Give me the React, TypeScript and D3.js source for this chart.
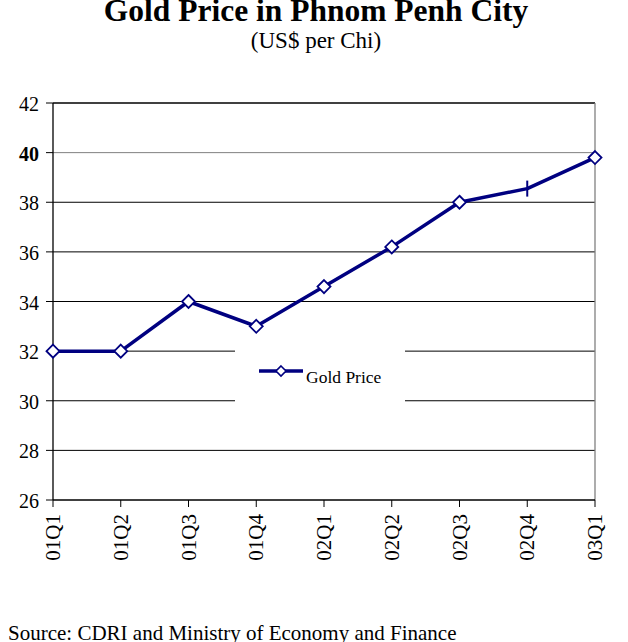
import React from "react";
import * as d3 from "d3";

const categories = ["01Q1", "01Q2", "01Q3", "01Q4", "02Q1", "02Q2", "02Q3", "02Q4", "03Q1"];
const goldPrice = [32, 32, 34, 33, 34.6, 36.2, 38, 38.55, 39.8];
const yTicks = [26, 28, 30, 32, 34, 36, 38, 40, 42];
const tickMarker = [false, false, false, false, false, false, false, true, false];

export default function App() {
  const W = 628, H = 642;
  const left = 53, right = 595, top = 103, bottom = 500;
  const x = d3.scalePoint<string>().domain(categories).range([left, right]);
  const y = d3.scaleLinear().domain([26, 42]).range([bottom, top]);
  const line = d3.line<number>().x((_, i) => x(categories[i])!).y(d => y(d));
  const navy = "#000080";
  const font = "'Liberation Serif', 'Times New Roman', serif";
  const diamond = (cx: number, cy: number, r: number) =>
    `M${cx},${cy - r}L${cx + r},${cy}L${cx},${cy + r}L${cx - r},${cy}Z`;
  const legX = 235, legW = 170, legY = 347, legH = 56;
  return (
    <svg width={W} height={H} style={{ position: "absolute", left: 0, top: 0 }} fontFamily={font}>
      <rect width={W} height={H} fill="#fff" />
      <text x={316} y={21} textAnchor="middle" fontSize={31.5} fontWeight="bold">Gold Price in Phnom Penh City</text>
      <text x={316} y={48} textAnchor="middle" fontSize={23}>(US$ per Chi)</text>
      {yTicks.filter(t => t > 26 && t < 42).map(t => (
        <line key={t} x1={left} x2={right} y1={y(t)} y2={y(t)} stroke={t === 40 ? "#808080" : "#000"} strokeWidth={1} />
      ))}
      <line x1={left} x2={right} y1={top} y2={top} stroke="#000" strokeWidth={1.3} />
      <line x1={right} x2={right} y1={top} y2={bottom} stroke="#808080" strokeWidth={1.3} />
      <rect x={legX} y={legY} width={legW} height={legH} fill="#fff" />
      <line x1={left} x2={left} y1={top} y2={bottom} stroke="#000" strokeWidth={1.3} />
      <line x1={left} x2={right} y1={bottom} y2={bottom} stroke="#000" strokeWidth={1.3} />
      {yTicks.map(t => (
        <g key={t}>
          <line x1={left - 7} x2={left} y1={y(t)} y2={y(t)} stroke="#000" />
          <text x={39} y={y(t) + 8} textAnchor="end" fontSize={20} fontWeight={t === 40 ? "bold" : "normal"}>{t}</text>
        </g>
      ))}
      {categories.map(c => (
        <g key={c}>
          <line x1={x(c)!} x2={x(c)!} y1={bottom} y2={bottom + 7} stroke="#000" />
          <text transform={`translate(${x(c)! + 7},${514}) rotate(-90)`} textAnchor="end" fontSize={21}>{c}</text>
        </g>
      ))}
      <path d={line(goldPrice)!} fill="none" stroke={navy} strokeWidth={3.5} strokeLinejoin="round" />
      {goldPrice.map((v, i) =>
        tickMarker[i] ? (
          <line key={i} x1={x(categories[i])!} x2={x(categories[i])!} y1={y(v) - 8} y2={y(v) + 8} stroke={navy} strokeWidth={2} />
        ) : (
          <path key={i} d={diamond(x(categories[i])!, y(v), 6.5)} fill="#fff" stroke={navy} strokeWidth={1.8} />
        )
      )}
      <line x1={259} x2={303} y1={371} y2={371} stroke={navy} strokeWidth={3.5} />
      <path d={diamond(281, 371, 5)} fill="#fff" stroke={navy} strokeWidth={1.6} />
      <text x={306} y={383} fontSize={17.5}>Gold Price</text>
      <text x={8} y={640} fontSize={21}>Source: CDRI and Ministry of Economy and Finance</text>
    </svg>
  );
}
